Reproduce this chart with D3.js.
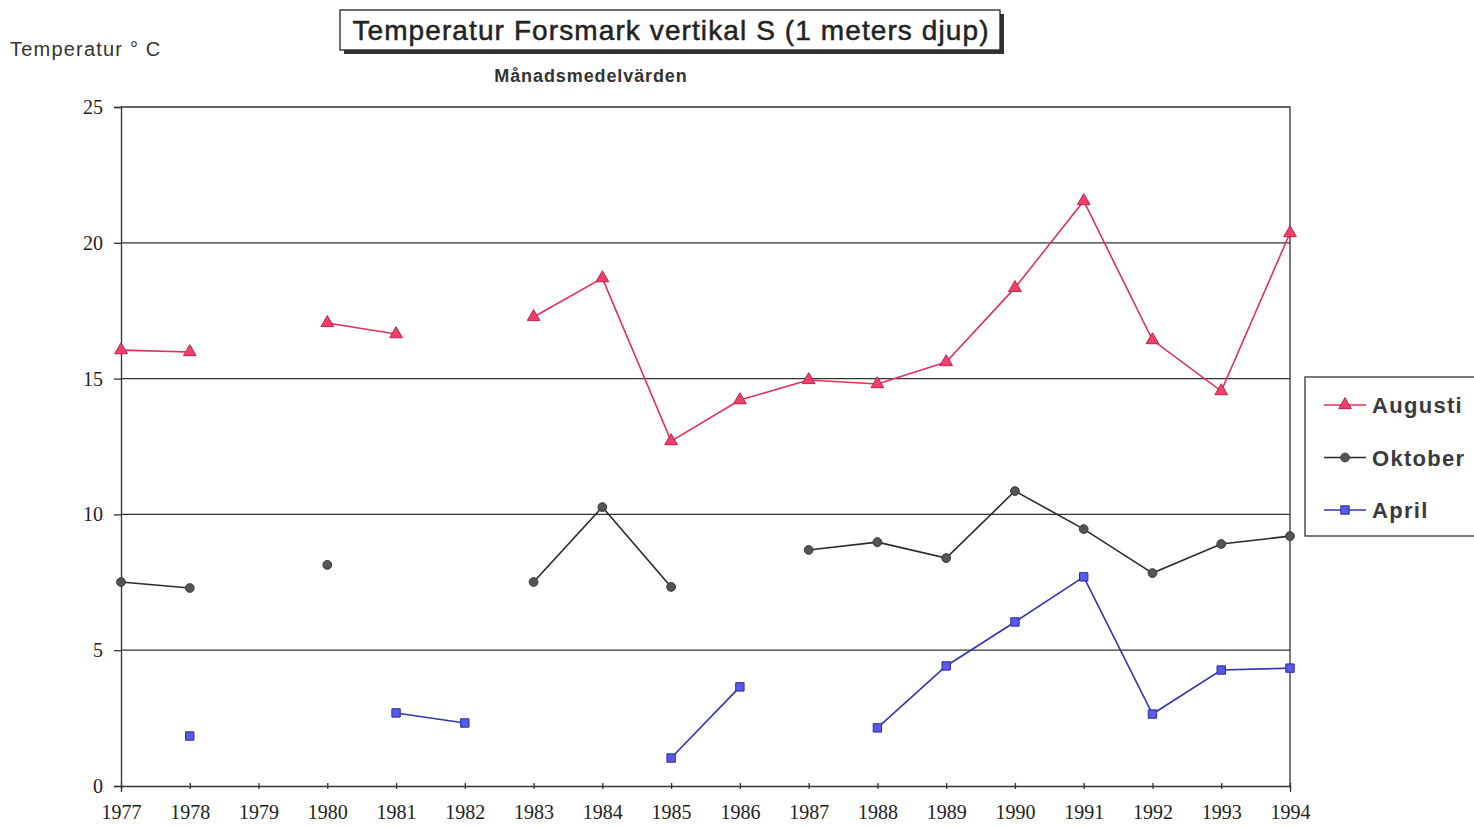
<!doctype html>
<html>
<head>
<meta charset="utf-8">
<script src="https://d3js.org/d3.v7.min.js"></script>
<style>
	body { margin: 0; background: #fff; }
	svg { font-family: "Liberation Sans", Arial, sans-serif; }
	.tick text { font-family: "Liberation Serif", "Times New Roman", serif; fill: #222; }
</style>
</head>
<body>
<script>
	// data (null = no value that year)
	var years = [1977, 1978, 1979, 1980, 1981, 1982, 1983, 1984, 1985, 1986, 1987, 1988, 1989, 1990, 1991, 1992, 1993, 1994];
	var augusti = [16.05, 15.98, null, 17.05, 16.64, null, 17.27, 18.7, 12.7, 14.21, 14.95, 14.8, 15.61, 18.34, 21.54, 16.42, 14.54, 20.36];
	var oktober = [7.51, 7.29, null, 8.14, null, null, 7.51, 10.27, 7.33, null, 8.69, 8.98, 8.39, 10.86, 9.46, 7.84, 8.91, 9.2];
	var april = [null, 1.84, null, null, 2.69, 2.32, null, null, 1.03, 3.65, null, 2.14, 4.42, 6.04, 7.7, 2.65, 4.27, 4.34];
	var yTicks = [0, 5, 10, 15, 20, 25];

	var series = [
		{ name: "Augusti", values: augusti, line: "#e0305a", fill: "#f0406a", stroke: "#c02050", symbol: d3.symbolTriangle, size: 70 },
		{ name: "Oktober", values: oktober, line: "#2a2a2a", fill: "#555", stroke: "#333", symbol: d3.symbolCircle, size: 60 },
		{ name: "April", values: april, line: "#3434b0", fill: "#5a5ae8", stroke: "#2a2aa0", symbol: d3.symbolSquare, size: 70 }
	];

	var width = 1474, height = 827;
	var svg = d3.select("body").append("svg")
		.attr("width", width)
		.attr("height", height);

	var x = d3.scaleLinear().domain([1977, 1994]).range([121, 1290]);
	var y = d3.scaleLinear().domain([0, 25]).range([786, 107]);

	// grid lines
	svg.append("g")
		.selectAll("line")
		.data(yTicks.filter(d => d > 0 && d < 25))
		.enter().append("line")
			.attr("x1", x(1977)).attr("x2", x(1994))
			.attr("y1", d => y(d)).attr("y2", d => y(d))
			.attr("stroke", "#333").attr("stroke-width", 1.3);

	// frame top + right
	svg.append("path")
		.attr("d", "M" + x(1977) + "," + y(25) + "H" + x(1994) + "V" + y(0))
		.attr("fill", "none").attr("stroke", "#333").attr("stroke-width", 1.3);

	// x axis
	var xAxis = svg.append("g")
		.attr("transform", "translate(0," + y(0) + ")")
		.call(d3.axisBottom(x).tickValues(years).tickFormat(d3.format("d")).tickSize(6).tickPadding(13));
	xAxis.selectAll("text").style("font-size", "20px");
	xAxis.selectAll("line").attr("transform", "translate(0,-3)");
	xAxis.selectAll("line, path").attr("stroke", "#333").attr("stroke-width", 1.3);

	// y axis
	var yAxis = svg.append("g")
		.attr("transform", "translate(" + x(1977) + ",0)")
		.call(d3.axisLeft(y).tickValues(yTicks).tickSize(7).tickPadding(11));
	yAxis.selectAll("text").style("font-size", "20px");
	yAxis.selectAll("line, path").attr("stroke", "#333").attr("stroke-width", 1.3);

	// lines and markers
	series.forEach(function(s) {
		var pts = years.map((yr, i) => ({ year: yr, value: s.values[i] }));
		var line = d3.line()
			.defined(d => d.value != null)
			.x(d => x(d.year))
			.y(d => y(d.value));

		svg.append("path")
			.datum(pts)
			.attr("fill", "none")
			.attr("stroke", s.line)
			.attr("stroke-width", 1.6)
			.attr("d", line);

		svg.append("g")
			.selectAll("path")
			.data(pts.filter(d => d.value != null))
			.enter().append("path")
				.attr("transform", d => "translate(" + x(d.year) + "," + y(d.value) + ")")
				.attr("d", d3.symbol().type(s.symbol).size(s.size))
				.attr("fill", s.fill)
				.attr("stroke", s.stroke)
				.attr("stroke-width", 1);
	});

	// legend
	var legend = svg.append("g");
	legend.append("rect")
		.attr("x", 1305).attr("y", 377).attr("width", 175).attr("height", 159)
		.attr("fill", "#fff").attr("stroke", "#333").attr("stroke-width", 1.3);
	series.forEach(function(s, i) {
		var ly = 405 + i * 52.5;
		legend.append("line")
			.attr("x1", 1324).attr("x2", 1366).attr("y1", ly).attr("y2", ly)
			.attr("stroke", s.line).attr("stroke-width", 1.6);
		legend.append("path")
			.attr("transform", "translate(1345," + ly + ")")
			.attr("d", d3.symbol().type(s.symbol).size(s.size))
			.attr("fill", s.fill).attr("stroke", s.stroke);
		legend.append("text")
			.attr("x", 1372).attr("y", ly + 8)
			.style("font-size", "22px")
			.style("font-weight", "bold")
			.style("letter-spacing", "1.3px")
			.style("fill", "#3a3a3a")
			.text(s.name);
	});

	// title box with shadow
	svg.append("rect")
		.attr("x", 344).attr("y", 14).attr("width", 660).attr("height", 40)
		.attr("fill", "#333");
	svg.append("rect")
		.attr("x", 340).attr("y", 10).attr("width", 660).attr("height", 40)
		.attr("fill", "#fff").attr("stroke", "#222").attr("stroke-width", 1.3);
	svg.append("text")
		.attr("x", 671).attr("y", 40)
		.attr("text-anchor", "middle")
		.style("font-size", "28px")
		.style("letter-spacing", "1.1px")
		.style("stroke", "#222").style("stroke-width", 0.5)
		.style("fill", "#222")
		.text("Temperatur Forsmark vertikal S (1 meters djup)");

	svg.append("text")
		.attr("x", 591).attr("y", 82)
		.attr("text-anchor", "middle")
		.style("font-size", "18px")
		.style("font-weight", "bold")
		.style("letter-spacing", "0.9px")
		.style("fill", "#333")
		.text("Månadsmedelvärden");

	svg.append("text")
		.attr("x", 10).attr("y", 56)
		.style("font-size", "20px")
		.style("letter-spacing", "1.2px")
		.style("fill", "#333")
		.text("Temperatur ° C");
</script>
</body>
</html>
